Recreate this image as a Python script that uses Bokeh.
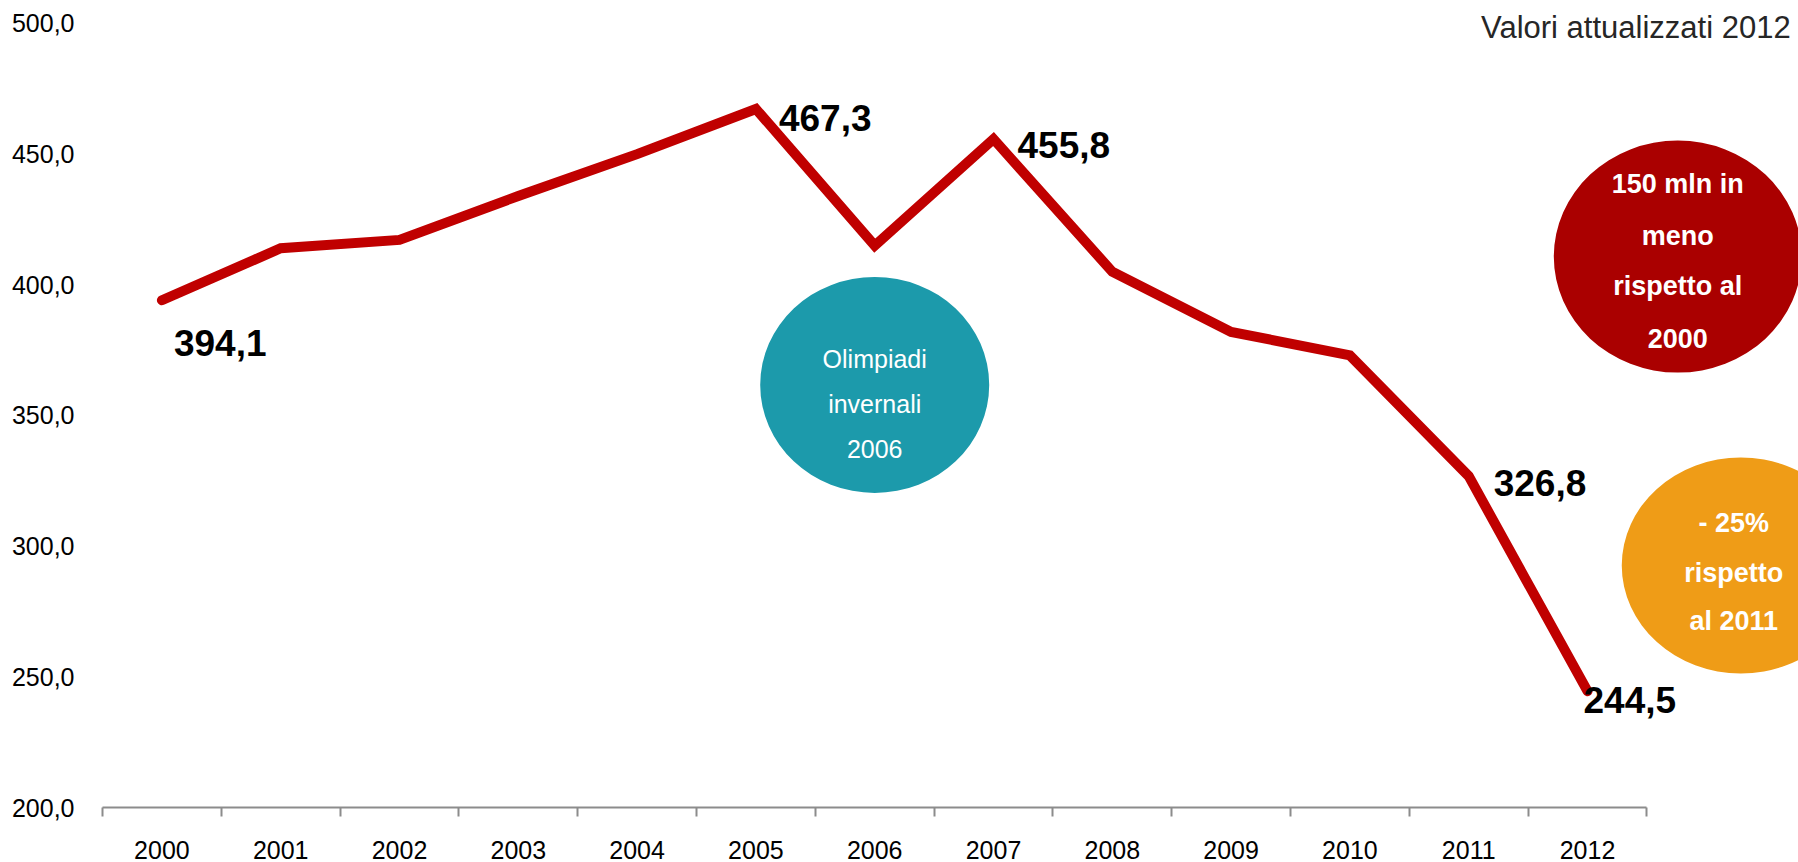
from bokeh.plotting import figure
from bokeh.models import Range1d, FixedTicker, ColumnDataSource
from bokeh.core.properties import value
from bokeh.embed import file_html
from bokeh.resources import INLINE

# ---------------- data ----------------
years = ["2000", "2001", "2002", "2003", "2004", "2005", "2006",
         "2007", "2008", "2009", "2010", "2011", "2012"]
spending = [394.1, 414.0, 417.2, 434.0, 450.0, 467.3, 415.0,
            455.8, 405.0, 382.0, 373.0, 326.8, 244.5]
labelled_years = ["2000", "2005", "2007", "2011", "2012"]

y_ticks = [200, 250, 300, 350, 400, 450, 500]
y_tick_labels = ["200,0", "250,0", "300,0", "350,0", "400,0", "450,0", "500,0"]

title_text = "Valori attualizzati 2012"
olympics_note = ["Olimpiadi", "invernali", "2006"]
loss_note = ["150 mln in", "meno", "rispetto al", "2000"]
drop_note = ["- 25%", "rispetto", "al 2011"]

# ---------------- styles / positions ----------------
FONT = "Liberation Sans"
LINE_RED = "#C00000"
TEAL = "#1C9AAB"
DARK_RED = "#AA0000"
ORANGE = "#EF9C17"

xs = [i + 0.5 for i in range(len(years))]

p = figure(width=1798, height=862, output_backend="svg", toolbar_location=None,
           x_range=Range1d(0, 14.276), y_range=Range1d(200, 508.8),
           min_border_left=102, min_border_right=0, min_border_top=0,
           min_border_bottom=55)
p.outline_line_color = None
p.grid.grid_line_color = None
p.background_fill_color = "white"
p.border_fill_color = "white"

# x axis: labels at band centres, tick marks on band boundaries
xa = p.xaxis[0]
xa.ticker = FixedTicker(ticks=xs, minor_ticks=list(range(len(years) + 1)))
xa.major_label_overrides = {x: y for x, y in zip(xs, years)}
xa.bounds = (0, len(years))
xa.axis_line_color = "#8C8C8C"
xa.axis_line_width = 2
xa.major_tick_out = 0
xa.major_tick_in = 0
xa.minor_tick_out = 9
xa.minor_tick_in = 0
xa.minor_tick_line_color = "#8C8C8C"
xa.minor_tick_line_width = 2
xa.major_label_text_font = FONT
xa.major_label_text_font_size = "25px"
xa.major_label_text_color = "#000000"
xa.major_label_standoff = 24

ya = p.yaxis[0]
ya.ticker = FixedTicker(ticks=y_ticks)
ya.major_label_overrides = {t: s for t, s in zip(y_ticks, y_tick_labels)}
ya.axis_line_color = None
ya.major_tick_line_color = None
ya.minor_tick_line_color = None
ya.major_tick_out = 0
ya.major_tick_in = 0
ya.major_label_text_font = FONT
ya.major_label_text_font_size = "25px"
ya.major_label_text_color = "#000000"
ya.major_label_standoff = 28

# annotation circles
ell = ColumnDataSource(dict(
    x=[6.5, 13.26, 13.79],
    y=[361.7, 410.8, 292.6],
    w=[229, 248, 238],
    h=[216, 232, 216],
    c=[TEAL, DARK_RED, ORANGE],
))
p.ellipse(x="x", y="y", width="w", height="h", width_units="screen",
          height_units="screen", fill_color="c", line_color=None, source=ell)

# main line
src = ColumnDataSource(dict(x=xs, y=spending))
p.line(x="x", y="y", source=src, line_color=LINE_RED, line_width=10,
       line_cap="round", line_join="miter")

# value labels
label_offsets = {"2000": (12, 43), "2005": (23, 9), "2007": (24, 6),
                 "2011": (25, 7), "2012": (-4, 9)}
lx, ly, lt, lox, loy = [], [], [], [], []
for yr in labelled_years:
    i = years.index(yr)
    lx.append(xs[i])
    ly.append(spending[i])
    lt.append(f"{spending[i]:.1f}".replace(".", ","))
    lox.append(label_offsets[yr][0])
    loy.append(label_offsets[yr][1])
lab = ColumnDataSource(dict(x=lx, y=ly, t=lt, ox=lox, oy=loy))
p.text(x="x", y="y", text="t", x_offset="ox", y_offset="oy", source=lab,
       text_font=value(FONT), text_font_style="bold", text_font_size="37px",
       text_color="#000000", text_align="left", text_baseline="middle")

# circle texts
def note(lines, cx, cy, offsets, dx, size, style):
    s = ColumnDataSource(dict(x=[cx] * len(lines), y=[cy] * len(lines),
                              t=lines, oy=offsets))
    p.text(x="x", y="y", text="t", x_offset=dx, y_offset="oy", source=s,
           text_font=value(FONT), text_font_style=style,
           text_font_size=size, text_color="white",
           text_align="center", text_baseline="middle")

note(olympics_note, 6.5, 361.7, [-26, 19, 64], 0, "25px", "normal")
note(loss_note, 13.26, 410.8, [-73, -21, 29, 82], 0, "27px", "bold")
note(drop_note, 13.79, 292.6, [-43, 7, 55], -7, "27px", "bold")

# title (top right)
p.text(x=[14.21], y=[498.3], text=[title_text], text_font=value(FONT),
       text_font_size="31px", text_color="#262626", text_align="right",
       text_baseline="middle")

open("out.html", "w").write(file_html(p, INLINE))
